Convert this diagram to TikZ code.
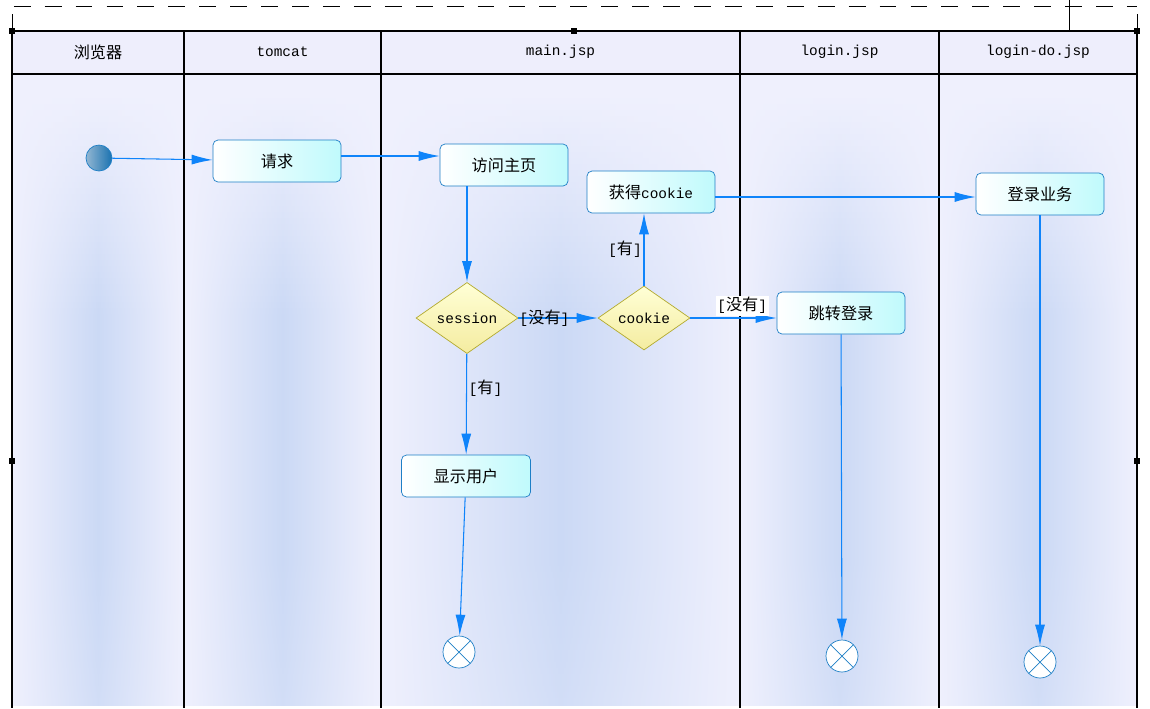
\documentclass[tikz,border=0pt]{standalone}
\usepackage{fontspec}
\setmainfont{Liberation Mono}
\newfontfamily\cjk{Noto Sans CJK SC}[Scale=1.12]
\usetikzlibrary{positioning}
\usetikzlibrary{shapes.geometric}
\usetikzlibrary{arrows.meta}
\definecolor{LANE}{HTML}{EFF0FD}
\definecolor{LANE_B}{HTML}{CBD9F5}
\definecolor{HEAD}{HTML}{EEEEFC}
\definecolor{FLOW}{HTML}{0F84FA}
\definecolor{ACT}{HTML}{1E7FC6}
\definecolor{ACT_A}{HTML}{C0FAFC}
\definecolor{DEC}{HTML}{B3AA2E}
\definecolor{DEC_A}{HTML}{FFFFD6}
\definecolor{DEC_E}{HTML}{F4ECA0}
\definecolor{INIT_A}{HTML}{92B6D2}
\definecolor{INIT_E}{HTML}{1A72B0}
\tikzset{
	every node/.style = {font=\fontsize{8.2}{10}\selectfont},
	action/.style = {draw=ACT, rounded corners=.1cm, left color=white, right color=ACT_A, minimum width=2.56cm, minimum height=.84cm, inner sep=0pt},
	decision/.style = {diamond, draw=DEC, top color=DEC_A, bottom color=DEC_E, minimum height=1.28cm, inner sep=0pt},
	start/.style = {circle, draw=ACT, left color=INIT_A, right color=INIT_E, minimum size=.52cm, inner sep=0pt},
	stop/.style = {circle, draw=ACT, fill=white, minimum size=.64cm, inner sep=0pt,
		path picture={\draw[ACT] (path picture bounding box.north west) -- (path picture bounding box.south east) (path picture bounding box.north east) -- (path picture bounding box.south west);}},
	flow/.style = {draw=FLOW, line width=.6pt, -{Latex[length=4.2mm, width=2mm]}},
	guard/.style = {inner sep=1pt}
}

\begin{document}
\begin{tikzpicture}[x=.02cm, y=-.02cm]
	% page
	\useasboundingbox (0,0) rectangle (1150,708);
	\draw[dash pattern=on 9.6pt off 8pt, dash phase=-1pt] (12,6) -- (1137,6);
	\draw (12,14) -- (12,31) (1137,14) -- (1137,31) (1069,0) -- (1069,31);
	
	% lanes
	\foreach \xa/\xb/\lane [count=\i] in {12/184/{\cjk 浏览器}, 184/381/tomcat, 381/740/main.jsp, 740/939/login.jsp, 939/1137/login-do.jsp}{
		\foreach \y in {74,80,...,702}{
			\pgfmathtruncatemacro\p{max(0,min(100,(\y-90)/2.2,100-(\y-560)/8))}
			\fill[left color=LANE, right color=LANE, middle color=LANE_B!\p!LANE] (\xa,\y) rectangle (\xb,\y+7);
		}
		\draw[line width=.7pt, fill=HEAD] (\xa,31) rectangle (\xb,74);
		\node (head\i) at ({(\xa+\xb)/2},52) {\lane};
		\draw[line width=.7pt] (\xa,74) -- (\xa,708) (\xb,74) -- (\xb,708);
	}
	\foreach \hx/\hy in {12/31, 574/31, 1137/31, 12/461, 1137/461}
		\fill (\hx-3,\hy-3) rectangle (\hx+3,\hy+3);
	
	% states
	\node[start] (init) at (99,158) {};
	\node[action] (req) at (277,161) {\cjk 请求};
	\node[action] (visit) at (504,165) {\cjk 访问主页};
	\node[action] (getc) at (651,192) {{\cjk 获得}cookie};
	\node[action] (dologin) at (1040,194) {\cjk 登录业务};
	\node[decision, minimum width=2.04cm] (session) at (467,318) {session};
	\node[decision, minimum width=1.84cm] (cookie) at (644,318) {cookie};
	\node[action] (jump) at (841,313) {\cjk 跳转登录};
	\node[action, minimum width=2.58cm] (show) at (466,476) {\cjk 显示用户};
	\node[stop] (end1) at (459,652) {};
	\node[stop] (end2) at (842,656) {};
	\node[stop] (end3) at (1040,662) {};
	
	% transitions
	\draw[flow] (init) -- (req);
	\draw[flow] ([yshift=.1cm]req.east) coordinate (r1) -- (r1 -| visit.west);
	\draw[flow] (session.north |- visit.south) -- (session);
	\draw[flow] (session) -- node[guard, pos=.33] {[{\cjk 没有}]} (cookie);
	\draw[flow] (cookie) -- node[guard, left] {[{\cjk 有}]} (cookie |- getc.south);
	\draw[flow] ([yshift=-.1cm]getc.east) coordinate (g1) -- (g1 -| dologin.west);
	\draw[flow] (cookie) -- node[guard, above=1pt, fill=white, pos=.6] {[{\cjk 没有}]} (cookie -| jump.west);
	\draw[flow] (session) -- node[guard, right, pos=.34] {[{\cjk 有}]} (show);
	\draw[flow] (show) -- (end1);
	\draw[flow] (jump) -- (end2);
	\draw[flow] (dologin) -- (end3);
\end{tikzpicture}
\end{document}
